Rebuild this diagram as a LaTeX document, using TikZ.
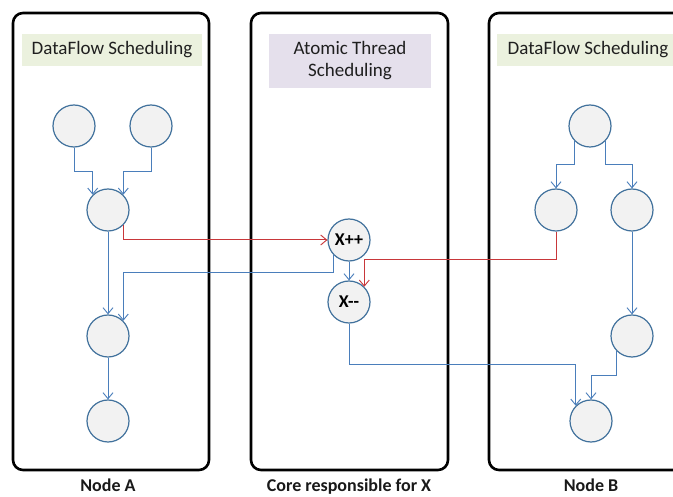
\documentclass[tikz,border=0pt]{standalone}
\usepackage{fontspec}
\setmainfont{Carlito}
\usetikzlibrary{arrows.meta}
\definecolor{cblue}{HTML}{4A7EBB}
\definecolor{cborder}{HTML}{41719C}
\definecolor{cred}{HTML}{C8373A}
\definecolor{cgreen}{HTML}{EBF1DE}
\definecolor{cpurple}{HTML}{E5E0EC}
\definecolor{cfill}{HTML}{F2F2F2}
\tikzset{
  panel/.style={draw=black, line width=2.6pt, rounded corners=10pt},
  vert/.style={circle, draw=cborder, fill=cfill, line width=1.2pt, minimum size=42pt, inner sep=0pt, font=\fontsize{18}{20}\selectfont\bfseries},
  conn/.style={draw=cblue, line width=1pt, -{Straight Barb[length=6pt,width=10pt,line width=0.9pt]}},
  rconn/.style={conn, draw=cred},
  title/.style={inner sep=0pt, font=\fontsize{19}{23}\selectfont, text=black!88},
  caption/.style={anchor=base, inner sep=0pt, font=\fontsize{18}{22}\selectfont\bfseries, text=black!90}
}
\begin{document}
\begin{tikzpicture}[x=1pt,y=-1pt]
\useasboundingbox (0,0) rectangle (673,497);
\clip (0,0) rectangle (673,497);
% panels
\draw[panel] (13,13) rectangle (209,470);
\draw[panel] (251,13) rectangle (448,470);
\draw[panel] (489,13) rectangle (700,470);
% title boxes
\fill[cgreen] (22,34) rectangle (202,66);
\node[title] (tA) at (112,50) {DataFlow Scheduling};
\fill[cpurple] (269,34) rectangle (431,88);
\node[title, align=center] (tC) at (350,61) {Atomic Thread\\[-1pt]Scheduling};
\fill[cgreen] (497,34) rectangle (690,66);
\node[title] (tB) at (588,50) {DataFlow Scheduling};
% node A vertices
\node[vert] (a1) at (74,126) {};
\node[vert] (a2) at (151,126) {};
\node[vert] (am) at (108,210) {};
\node[vert] (al) at (108,336) {};
\node[vert] (ab) at (108,421) {};
% core vertices
\node[vert] (xpp) at (349,240) {X++};
\node[vert] (xmm) at (349,302) {X-{}-};
% node B vertices
\node[vert] (bt) at (590,126) {};
\node[vert] (bl) at (556,210) {};
\node[vert] (br) at (632,210) {};
\node[vert] (brl) at (632,336) {};
\node[vert] (bb) at (591,421) {};
% captions
\node[caption] (cA) at (108,492) {Node A};
\node[caption] (cC) at (349,492) {Core responsible for X};
\node[caption] (cB) at (591,492) {Node B};
% connectors in node A
\draw[conn] (a1.south) -- ++(0,24) -| (am.north west);
\draw[conn] (a2.south) -- ++(0,24) -| (am.north east);
\draw[conn] (am.south) -- (al.north);
\draw[conn] (al.south) -- (ab.north);
% node B
\draw[conn] (bt.south west) -- ++(0,23) -| (bl.north);
\draw[conn] (bt.south east) -- ++(0,23) -| (br.north);
\draw[conn] (br.south) -- (brl.north);
\draw[conn] (brl.south west) -- ++(0,24) -| (bb.north);
% core
\draw[conn] (xpp.south) -- (xmm.north);
\draw[conn] (xpp.south west) -- ++(0,17) -| (al.north east);
\draw[conn] (xmm.south) -- ++(0,41) -| (bb.north west);
% red
\draw[rconn] (am.south east) |- (xpp.west);
\draw[rconn] (bl.south) -- ++(0,28) -| (xmm.north east);
\end{tikzpicture}
\end{document}
